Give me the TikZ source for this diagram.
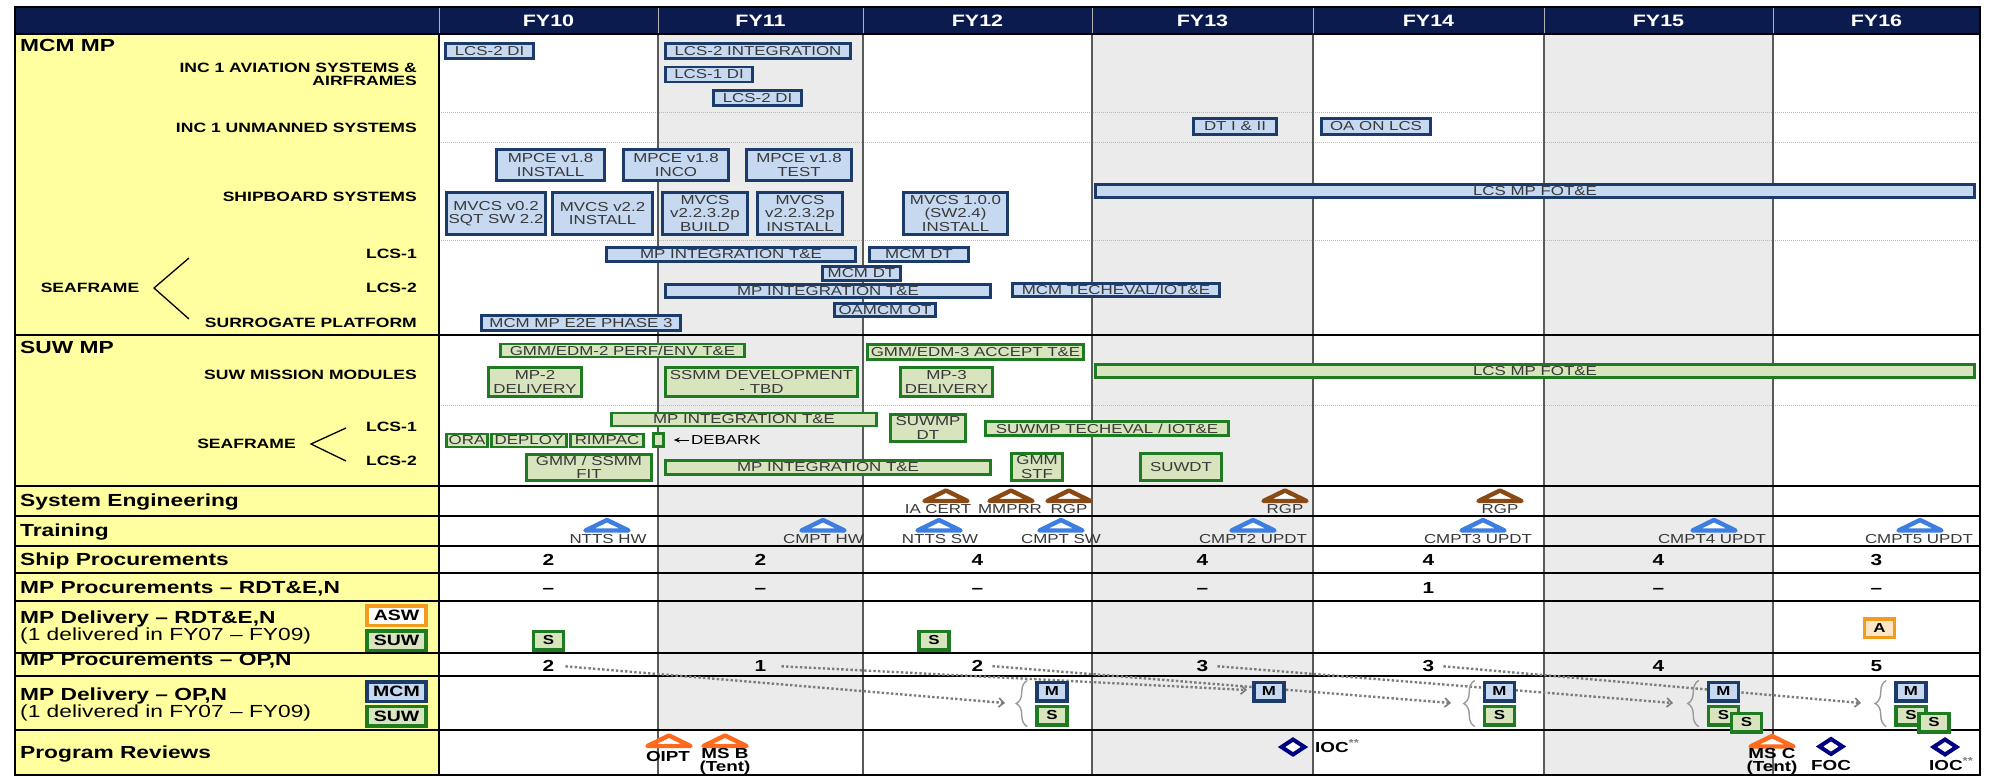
\documentclass[tikz,border=0pt]{standalone}
\usepackage{fontspec}
\setmainfont{Liberation Sans}[FakeStretch=1.3]
\usetikzlibrary{arrows.meta, decorations.pathreplacing}
\definecolor{navyhead}{HTML}{0B1B4D}
\definecolor{labelyellow}{HTML}{FFFF9F}
\definecolor{colgrey}{HTML}{EBEBEB}
\definecolor{mcmfill}{HTML}{C6D9F1}
\definecolor{mcmline}{HTML}{1B3B6B}
\definecolor{suwfill}{HTML}{D8E4BD}
\definecolor{suwline}{HTML}{1E7B22}
\definecolor{aswline}{HTML}{F49B1F}
\definecolor{aswfill}{HTML}{FCE6C6}
\definecolor{boxtext}{HTML}{383838}
\definecolor{sebrown}{HTML}{8A4A14}
\definecolor{trainblue}{HTML}{3D7EE0}
\definecolor{revorange}{HTML}{FF6A1C}
\definecolor{revnavy}{HTML}{000080}
\definecolor{feedgrey}{HTML}{7C7C7C}
\definecolor{colline}{HTML}{5A5A5A}
\tikzset{
  mcm/.style={draw=mcmline, fill=mcmfill, line width=2.6pt, inner sep=0pt, align=center, text=boxtext, font=\fontsize{13}{13.5}\selectfont},
  suw/.style={mcm, draw=suwline, fill=suwfill},
  rowlbl/.style={anchor=base west, align=left, inner sep=0pt, font=\bfseries\fontsize{17.5}{15.5}\selectfont},
  sublbl/.style={anchor=base east, align=right, inner sep=0pt, font=\bfseries\fontsize{13.5}{13}\selectfont},
  fyhead/.style={anchor=base, inner sep=0pt, text=white, font=\bfseries\fontsize{16.5}{16}\selectfont},
  num/.style={anchor=base, inner sep=0pt, font=\bfseries\fontsize{16}{16}\selectfont},
  mslbl/.style={anchor=base, inner sep=0pt, text=boxtext, font=\fontsize{13}{13}\selectfont},
  revlbl/.style={align=center, inner sep=0pt, font=\bfseries\fontsize{14.5}{13}\selectfont},
  legendbox/.style={draw=#1, line width=3.5pt, inner sep=0pt, minimum width=59, minimum height=19.5, font=\bfseries\fontsize{15}{15}\selectfont},
  deliv/.style={draw=#1, line width=3.5pt, inner sep=0pt, minimum width=30, minimum height=18.5, font=\bfseries\fontsize{13}{13}\selectfont},
  feed/.style={draw=feedgrey, line width=2.4pt, dash pattern=on 2.4pt off 2.2pt, shorten <=9pt, -{Straight Barb[length=5pt, width=9pt, line width=1.6pt]}},
  dotsep/.style={draw=gray!55, line width=0.8pt, dash pattern=on 1pt off 1pt},
  cbrace/.style={draw=gray!80, line width=1.4pt, decorate, decoration={brace, amplitude=11pt}},
  tri/.pic={\draw[line width=4.4pt, line join=round, fill=white] (-21.5,5.5) -- (0,-5) -- (21.5,5.5) -- cycle;},
  diam/.pic={\draw[line width=4pt, fill=white] (-11.5,0) -- (0,-7.5) -- (11.5,0) -- (0,7.5) -- cycle;},
}
\begin{document}
\begin{tikzpicture}[x=1pt, y=-1pt]
  \useasboundingbox (0,0) rectangle (1991,776);
  % table grid
  \fill[labelyellow] (15,34) rectangle (439,775);
  \fill[colgrey] (658,34) rectangle (863,730);
  \fill[colgrey] (1092,34) rectangle (1313,775);
  \fill[colgrey] (1544,34) rectangle (1773,775);
  \fill[navyhead] (15,7) rectangle (1980,34);
  \foreach \ry in {112,142,240,405} \draw[dotsep] (439,\ry) -- (1980,\ry);
  \foreach \cx in {658,863,1092,1313,1544,1773} {
    \draw[colline, line width=1.4pt] (\cx,34) -- (\cx,775);
    \draw[gray!60, line width=1pt] (\cx,7) -- (\cx,34);
  }
  \draw[gray!60, line width=1pt] (439,7) -- (439,34);
  \draw[line width=1.8pt] (439,34) -- (439,775);
  \foreach \ry in {34,335,486,516,546,573,601,653,676,730} \draw[line width=1.8pt] (15,\ry) -- (1980,\ry);
  \draw[line width=2pt] (15,7) rectangle (1980,775);
  \foreach \fy/\cx in {10/548.5, 11/760.5, 12/977.5, 13/1202.5, 14/1428.5, 15/1658.5, 16/1876.5}
    \node[fyhead] (fy\fy) at (\cx,26.5) {FY\fy};

  % label column
  \node[rowlbl] (mcmHead) at (20,51.8) {MCM MP};
  \node[sublbl, anchor=east] (incAvi) at (417,74.5) {INC 1 AVIATION SYSTEMS \&\\AIRFRAMES};
  \node[sublbl] (incUnm) at (417,132.8) {INC 1 UNMANNED SYSTEMS};
  \node[sublbl] (shipSys) at (417,201.8) {SHIPBOARD SYSTEMS};
  \node[sublbl] (mcmLcsOne) at (417,258.8) {LCS-1};
  \node[sublbl] (mcmLcsTwo) at (417,292.8) {LCS-2};
  \node[sublbl] (surrogate) at (417,327.8) {SURROGATE PLATFORM};
  \node[sublbl, anchor=base] (mcmSea) at (90,292.8) {SEAFRAME};
  \coordinate (mcmForkTop) at (189,258);
  \coordinate (mcmFork) at (154,288);
  \coordinate (mcmForkBot) at (189,319);
  \draw[line width=1.3pt] (mcmForkTop) -- (mcmFork) -- (mcmForkBot);
  \node[rowlbl] (suwHead) at (20,353.8) {SUW MP};
  \node[sublbl] (suwMods) at (417,379.3) {SUW MISSION MODULES};
  \node[sublbl] (suwLcsOne) at (417,431.8) {LCS-1};
  \node[sublbl] (suwLcsTwo) at (417,465.8) {LCS-2};
  \node[sublbl, anchor=base] (suwSea) at (246.5,448.8) {SEAFRAME};
  \coordinate (suwForkTop) at (346,428);
  \coordinate (suwFork) at (311,444);
  \coordinate (suwForkBot) at (346,461);
  \draw[line width=1.3pt] (suwForkTop) -- (suwFork) -- (suwForkBot);
  \node[rowlbl] (sysEng) at (20,506.3) {System Engineering};
  \node[rowlbl] (training) at (20,536.3) {Training};
  \node[rowlbl] (shipProc) at (20,565.3) {Ship Procurements};
  \node[rowlbl] (rdtProc) at (20,593.8) {MP Procurements – RDT\&E,N};
  \node[rowlbl, anchor=west] (rdtDel) at (20,627.6) {MP Delivery – RDT\&E,N\\\mdseries (1 delivered in FY07 – FY09)};
  \node[rowlbl] (opProc) at (20,665.3) {MP Procurements – OP,N};
  \node[rowlbl, anchor=west] (opDel) at (20,704.6) {MP Delivery – OP,N\\\mdseries (1 delivered in FY07 – FY09)};
  \node[rowlbl] (progRev) at (20,758.3) {Program Reviews};
  \node[legendbox=aswline, fill=white] (keyAsw) at (396.5,615.5) {ASW};
  \node[legendbox=suwline, fill=suwfill] (keySuwA) at (396.5,640.5) {SUW};
  \node[legendbox=mcmline, fill=mcmfill] (keyMcm) at (396.5,691.5) {MCM};
  \node[legendbox=suwline, fill=suwfill] (keySuwB) at (396.5,716) {SUW};

  % MCM mission package
  \node[mcm, minimum width=88, minimum height=15] (lcsTwoDiA) at (489.5,51) {LCS-2 DI};
  \node[mcm, minimum width=185, minimum height=15] (lcsTwoInt) at (758,51) {LCS-2 INTEGRATION};
  \node[mcm, minimum width=87, minimum height=15] (lcsOneDi) at (709,74.5) {LCS-1 DI};
  \node[mcm, minimum width=88, minimum height=15] (lcsTwoDiB) at (757.5,98) {LCS-2 DI};
  \node[mcm, minimum width=83, minimum height=16] (dtOneTwo) at (1235,126.5) {DT I \& II};
  \node[mcm, minimum width=109, minimum height=16] (oaOnLcs) at (1376,126.5) {OA ON LCS};
  \node[mcm, minimum width=108, minimum height=31] (mpceInst) at (550.5,165) {MPCE v1.8\\INSTALL};
  \node[mcm, minimum width=105, minimum height=31] (mpceInco) at (676,165) {MPCE v1.8\\INCO};
  \node[mcm, minimum width=105, minimum height=31] (mpceTest) at (799,165) {MPCE v1.8\\TEST};
  \node[mcm, minimum width=99, minimum height=42] (mvcsSqt) at (496,213.5) {MVCS v0.2\\SQT SW 2.2};
  \node[mcm, minimum width=100, minimum height=42] (mvcsInst) at (602.5,213.5) {MVCS v2.2\\INSTALL};
  \node[mcm, minimum width=85, minimum height=42] (mvcsBuild) at (705,213.5) {MVCS\\v2.2.3.2p\\BUILD};
  \node[mcm, minimum width=85, minimum height=42] (mvcsInstB) at (800,213.5) {MVCS\\v2.2.3.2p\\INSTALL};
  \node[mcm, minimum width=104, minimum height=42] (mvcsOne) at (955.5,213.5) {MVCS 1.0.0\\(SW2.4)\\INSTALL};
  \node[mcm, minimum width=879, minimum height=13.5] (fotBlue) at (1535,191) {LCS MP FOT\&E};
  \node[mcm, minimum width=249, minimum height=14] (mpIntA) at (731,254.5) {MP INTEGRATION T\&E};
  \node[mcm, minimum width=99, minimum height=14] (mcmDtA) at (919,254.5) {MCM DT};
  \node[mcm, minimum width=78, minimum height=14] (mcmDtB) at (861.5,273.5) {MCM DT};
  \node[mcm, minimum width=325, minimum height=13.5] (mpIntB) at (828,291) {MP INTEGRATION T\&E};
  \node[mcm, minimum width=207, minimum height=13.5] (mcmTech) at (1116,290) {MCM TECHEVAL/IOT\&E};
  \node[mcm, minimum width=101, minimum height=13.5] (oamcm) at (885,310) {OAMCM OT};
  \node[mcm, minimum width=199, minimum height=15] (eToE) at (581,323) {MCM MP E2E PHASE 3};

  % SUW mission package
  \node[suw, minimum width=244, minimum height=13] (gmmEdmTwo) at (622.5,350.5) {GMM/EDM-2 PERF/ENV T\&E};
  \node[suw, minimum width=216, minimum height=15] (gmmEdmThree) at (975.5,352) {GMM/EDM-3 ACCEPT T\&E};
  \node[suw, minimum width=879, minimum height=13.5] (fotGreen) at (1535,371) {LCS MP FOT\&E};
  \node[suw, minimum width=93, minimum height=29] (mpTwo) at (535,382) {MP-2\\DELIVERY};
  \node[suw, minimum width=192, minimum height=29] (ssmmDev) at (761.5,382) {SSMM DEVELOPMENT\\- TBD};
  \node[suw, minimum width=92, minimum height=29] (mpThree) at (946.5,382) {MP-3\\DELIVERY};
  \node[suw, minimum width=265, minimum height=13] (mpIntC) at (744,419.5) {MP INTEGRATION T\&E};
  \node[suw, minimum width=75, minimum height=27] (suwDt) at (928,428) {SUWMP\\DT};
  \node[suw, minimum width=243, minimum height=14] (suwTech) at (1107,428.5) {SUWMP TECHEVAL / IOT\&E};
  \node[suw, minimum width=41, minimum height=13] (ora) at (467,440.5) {ORA};
  \node[suw, minimum width=75, minimum height=13] (deploy) at (529,440.5) {DEPLOY};
  \node[suw, minimum width=73, minimum height=13] (rimpac) at (607,440.5) {RIMPAC};
  \node[suw, minimum width=10, minimum height=13] (debarkBox) at (658.5,440) {};
  \node[mslbl, anchor=west, text=black] (debark) at (691,440) {DEBARK};
  \draw[-{Stealth[length=6pt, width=5pt]}, line width=0.9pt, shorten <=2pt, shorten >=9pt] (debark.west) -- (debarkBox.east);
  \node[suw, minimum width=125, minimum height=26] (gmmFit) at (589,467.5) {GMM / SSMM\\FIT};
  \node[suw, minimum width=325, minimum height=14] (mpIntD) at (828,467.5) {MP INTEGRATION T\&E};
  \node[suw, minimum width=51, minimum height=27] (gmmStf) at (1037,467) {GMM\\STF};
  \node[suw, minimum width=81, minimum height=27] (suwDtB) at (1181,467) {SUWDT};

  % system engineering and training events
  \foreach \cx in {946,1011,1069,1285,1500} \pic[color=sebrown] at (\cx,495.5) {tri};
  \node[mslbl] (iaCert) at (938,513.6) {IA CERT};
  \node[mslbl] (mmprr) at (1010,513.6) {MMPRR};
  \node[mslbl] (rgpA) at (1069,513.6) {RGP};
  \node[mslbl] (rgpB) at (1285,513.6) {RGP};
  \node[mslbl] (rgpC) at (1500,513.6) {RGP};
  \foreach \cx in {607,823,939,1061,1253,1483,1714,1920} \pic[color=trainblue] at (\cx,525) {tri};
  \node[mslbl] (nttsHw) at (608,543.7) {NTTS HW};
  \node[mslbl] (cmptHw) at (823.5,543.7) {CMPT HW};
  \node[mslbl] (nttsSw) at (940,543.7) {NTTS SW};
  \node[mslbl] (cmptSw) at (1061,543.7) {CMPT SW};
  \node[mslbl] (cmptTwo) at (1253,543.7) {CMPT2 UPDT};
  \node[mslbl] (cmptThree) at (1478,543.7) {CMPT3 UPDT};
  \node[mslbl] (cmptFour) at (1712,543.7) {CMPT4 UPDT};
  \node[mslbl] (cmptFive) at (1919,543.7) {CMPT5 UPDT};

  % procurement quantities
  \foreach \cx/\n/\fy in {548.5/2/10, 760.5/2/11, 977.5/4/12, 1202.5/4/13, 1428.5/4/14, 1658.5/4/15, 1876.5/3/16}
    \node[num] (ship\fy) at (\cx,565) {\n};
  \foreach \cx/\n/\fy in {548.5/–/10, 760.5/–/11, 977.5/–/12, 1202.5/–/13, 1428.5/1/14, 1658.5/–/15, 1876.5/–/16}
    \node[num] (rdt\fy) at (\cx,593) {\n};
  \foreach \cx/\n/\fy in {548.5/2/10, 760.5/1/11, 977.5/2/12, 1202.5/3/13, 1428.5/3/14, 1658.5/4/15, 1876.5/5/16}
    \node[num] (op\fy) at (\cx,671) {\n};
  \node[deliv=suwline, fill=suwfill] (rdtSTen) at (548.5,640.5) {S};
  \node[deliv=suwline, fill=suwfill] (rdtSTwelve) at (934,640.5) {S};
  \node[deliv=aswline, fill=aswfill] (rdtASixteen) at (1879.5,628) {A};

  % OP,N delivery lag
  \coordinate (feedTwelve) at (1005,703);
  \coordinate (feedThirteen) at (1247,690);
  \coordinate (feedFourteen) at (1451,703);
  \coordinate (feedFifteen) at (1673,703);
  \coordinate (feedSixteen) at (1861,703);
  \draw[feed, shorten <=11pt] (op10.east) -- (feedTwelve);
  \draw[feed, shorten <=15pt] (op11.east) -- (feedThirteen);
  \draw[feed] (op12.east) -- (feedFourteen);
  \draw[feed] (op13.east) -- (feedFifteen);
  \draw[feed] (op14.east) -- (feedSixteen);
  \node[deliv=mcmline, fill=mcmfill] (mTwelve) at (1052,691.5) {M};
  \node[deliv=suwline, fill=suwfill] (sTwelve) at (1052,715.5) {S};
  \node[deliv=mcmline, fill=mcmfill] (mThirteen) at (1269,691.5) {M};
  \node[deliv=mcmline, fill=mcmfill] (mFourteen) at (1499.5,691.5) {M};
  \node[deliv=suwline, fill=suwfill] (sFourteen) at (1499.5,715.5) {S};
  \node[deliv=mcmline, fill=mcmfill] (mFifteen) at (1723.5,691.5) {M};
  \node[deliv=suwline, fill=suwfill] (sFifteen) at (1723.5,715.5) {S};
  \node[deliv=suwline, fill=suwfill] (sFifteenB) at (1746.5,722.5) {S};
  \node[deliv=mcmline, fill=mcmfill] (mSixteen) at (1911,691.5) {M};
  \node[deliv=suwline, fill=suwfill] (sSixteen) at (1911,715.5) {S};
  \node[deliv=suwline, fill=suwfill] (sSixteenB) at (1934,722.5) {S};
  \foreach \fy in {Twelve, Fourteen, Fifteen, Sixteen}
    \draw[cbrace] ([xshift=-8]s\fy.south west) -- ([xshift=-8]m\fy.north west);

  % program reviews
  \pic[color=revorange] at (669,740.5) {tri};
  \pic[color=revorange] at (725,740.5) {tri};
  \pic[color=revorange] at (1772,741) {tri};
  \node[revlbl, anchor=base] (oipt) at (668,761) {OIPT};
  \node[revlbl] (msB) at (725,761) {MS B\\(Tent)};
  \node[revlbl] (msC) at (1772,761) {MS C\\(Tent)};
  \pic[color=revnavy] at (1293,747) {diam};
  \pic[color=revnavy] at (1831,746.5) {diam};
  \pic[color=revnavy] at (1945,747) {diam};
  \node[revlbl, anchor=base west] (iocA) at (1315,752.2) {IOC\textsuperscript{\textcolor{gray}{**}}};
  \node[revlbl, anchor=base] (foc) at (1831,770.2) {FOC};
  \node[revlbl, anchor=base west] (iocB) at (1929,770.2) {IOC\textsuperscript{\textcolor{gray}{**}}};
\end{tikzpicture}
\end{document}
